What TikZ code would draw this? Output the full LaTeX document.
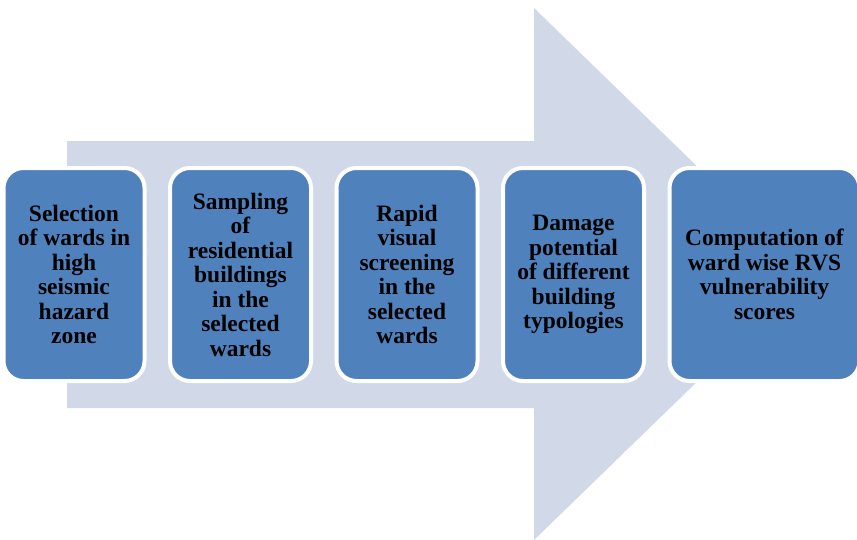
\documentclass[tikz,border=0pt]{standalone}
\usepackage{fontspec}
\setmainfont{Liberation Serif}
\usepackage{xcolor}
\usepackage{tikz}
\usetikzlibrary{positioning}

\definecolor{arrowbg}{HTML}{D1D9E8}
\definecolor{stepblue}{HTML}{4F81BD}

\begin{document}
\begin{tikzpicture}[
    x=1pt, y=-1pt,
    node distance=21.5pt,
    stagebox/.style={draw=white, line width=4pt, fill=stepblue, rounded corners=20pt,
        minimum width=141pt, minimum height=213pt, align=center, inner sep=0pt,
        font=\fontsize{23.5}{24.5}\selectfont\bfseries}
]
    \useasboundingbox (0,0) rectangle (857,539);
    % big background arrow
    \fill[arrowbg] (67,141) -- (534,141) -- (534,8) -- (808,274) -- (534,540)
        -- (534,408) -- (67,408) -- cycle;

    \node[stagebox] (select) at (74,274.5) {Selection\\of wards in\\high\\seismic\\hazard\\zone};
    \node[stagebox, right=of select] (sample) {Sampling\\of\\residential\\buildings\\in the\\selected\\wards};
    \node[stagebox, right=of sample] (rvs) {Rapid\\visual\\screening\\in the\\selected\\wards};
    \node[stagebox, right=of rvs] (damage) {Damage\\potential\\of different\\building\\typologies};
    \node[stagebox, right=of damage, minimum width=190pt] (score) {Computation of\\ward wise RVS\\vulnerability\\scores};
\end{tikzpicture}
\end{document}
